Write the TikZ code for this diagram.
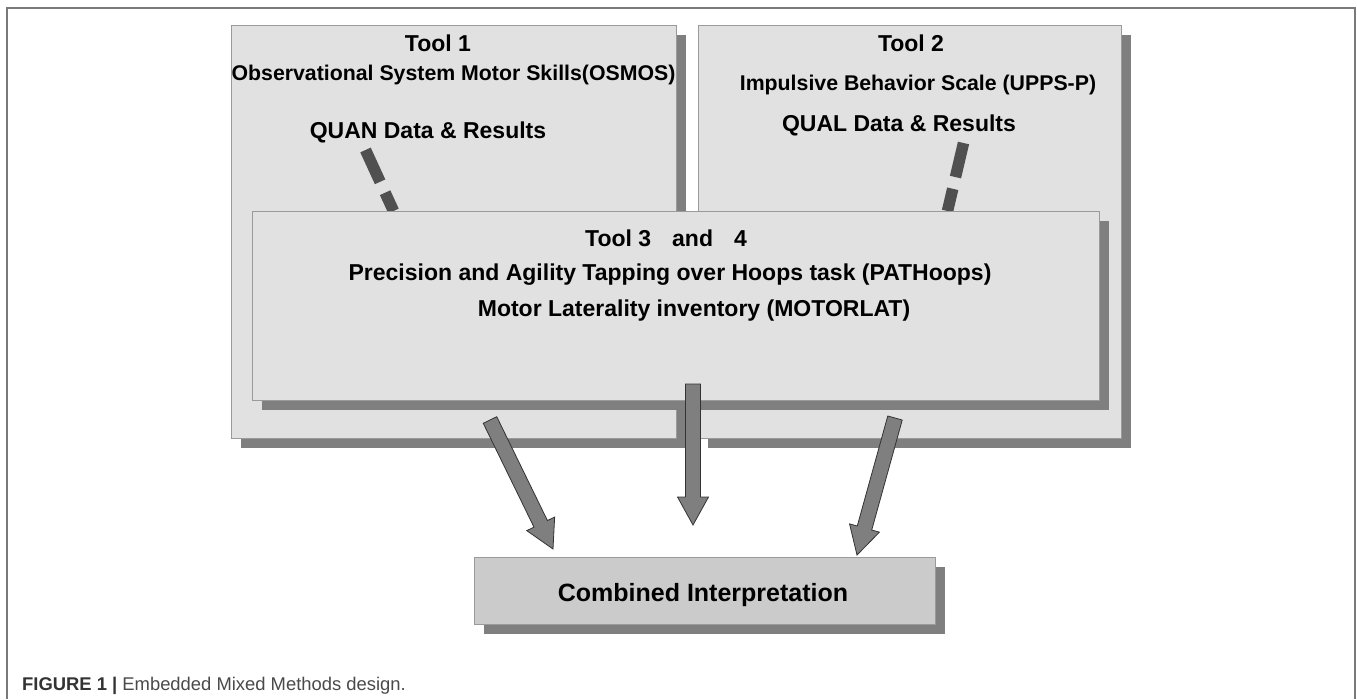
\documentclass[tikz,border=0pt]{standalone}
\usepackage{fontspec}
\setmainfont{Liberation Sans}
\usetikzlibrary{calc,shadows}
\definecolor{boxfill}{HTML}{E1E1E1}
\definecolor{boxline}{HTML}{9A9A9A}
\definecolor{shade}{HTML}{7F7F7F}
\definecolor{combfill}{HTML}{CBCBCB}
\definecolor{dashcol}{HTML}{505050}
\definecolor{framecol}{HTML}{7A7A7A}
\definecolor{capdark}{HTML}{333333}
\definecolor{capgray}{HTML}{4A4A4A}
\begin{document}
\begin{tikzpicture}[x=1pt,y=-1pt,
  panel/.style={fill=boxfill,draw=boxline,line width=1pt,inner sep=0pt,
    drop shadow={shadow xshift=10pt,shadow yshift=-10pt,fill=shade,opacity=1,draw=none}},
  combpanel/.style={panel,fill=combfill},
  lbl/.style={font=\fontsize{23}{27}\selectfont\bfseries,inner sep=0pt,anchor=base},
  sublbl/.style={font=\fontsize{21.3}{25}\selectfont\bfseries,inner sep=0pt,anchor=base},
  blockarrow/.style={fill=shade,draw=black!80,line width=0.8pt,line join=miter},
  dashlink/.style={draw=dashcol,line width=11.5pt,dash pattern=on 35pt off 12pt}]
\useasboundingbox (0,0) rectangle (1357,699);
\fill[white] (0,0) rectangle (1357,699);
% frame
\coordinate (fbl) at (7,699);
\coordinate (ftl) at (7,8);
\coordinate (ftr) at (1355,8);
\coordinate (fbr) at (1355,699);
\draw[framecol,line width=1.6pt] (fbl) -- (ftl) -- (ftr) -- (fbr);
% upper panels
\node[panel,minimum width=445pt,minimum height=413pt] (tool1) at (453.5,231.5) {};
\node[panel,minimum width=423pt,minimum height=413pt] (tool2) at (909.5,231.5) {};
\node[lbl] (t1) at (438,51) {Tool 1};
\node[sublbl] (t1s) at (453.5,80) {Observational System Motor Skills(OSMOS)};
\node[lbl] (t1q) at (428,138) {QUAN Data \& Results};
\node[lbl] (t2) at (911,51) {Tool 2};
\node[sublbl] (t2s) at (918,90) {Impulsive Behavior Scale (UPPS-P)};
\node[lbl] (t2q) at (899,131) {QUAL Data \& Results};
% dashed links
\coordinate (d1s) at (365.5,150);
\coordinate (d1e) at (393.5,211);
\coordinate (d2s) at (963.5,143);
\coordinate (d2e) at (947.5,211);
\draw[dashlink] (d1s) -- (d1e);
\draw[dashlink] (d2s) -- (d2e);
% embedded panel
\node[panel,minimum width=847pt,minimum height=189pt] (tool34) at (675.5,305.5) {};
\node[lbl] (t3) at (666,246) {Tool 3\hspace{21pt}and\hspace{21pt}4};
\node[lbl] (t3a) at (670,280) {Precision and Agility Tapping over Hoops task (PATHoops)};
\node[lbl] (t3b) at (694,316) {Motor Laterality inventory (MOTORLAT)};
% combined
\node[combpanel,minimum width=461pt,minimum height=67pt] (comb) at (704.5,590.5) {};
\node[font=\fontsize{25}{30}\selectfont\bfseries,inner sep=0pt,anchor=base] (ci) at (703,601) {Combined Interpretation};
% block arrows
\coordinate (a1s) at (490,420); \coordinate (a1e) at (553,549);
\coordinate (a2s) at (693,384); \coordinate (a2e) at (693,525);
\coordinate (a3s) at (895,418); \coordinate (a3e) at (857,555);
\foreach \a in {a1,a2,a3}{
  \coordinate (\a h) at ($(\a e)!28pt!(\a s)$);
  \path[blockarrow] ($(\a s)!7.5pt!90:(\a e)$) -- ($(\a h)!7.5pt!90:(\a e)$)
    -- ($(\a h)!15.5pt!90:(\a e)$) -- (\a e) -- ($(\a h)!15.5pt!-90:(\a e)$)
    -- ($(\a h)!7.5pt!-90:(\a e)$) -- ($(\a s)!7.5pt!-90:(\a e)$) -- cycle;
}
% caption
\node[anchor=base west,inner sep=0pt,font=\fontsize{18.4}{22}\selectfont] (cap) at (22,690)
  {\textcolor{capdark}{\bfseries FIGURE 1 |} \textcolor{capgray}{Embedded Mixed Methods design.}};
\end{tikzpicture}
\end{document}
